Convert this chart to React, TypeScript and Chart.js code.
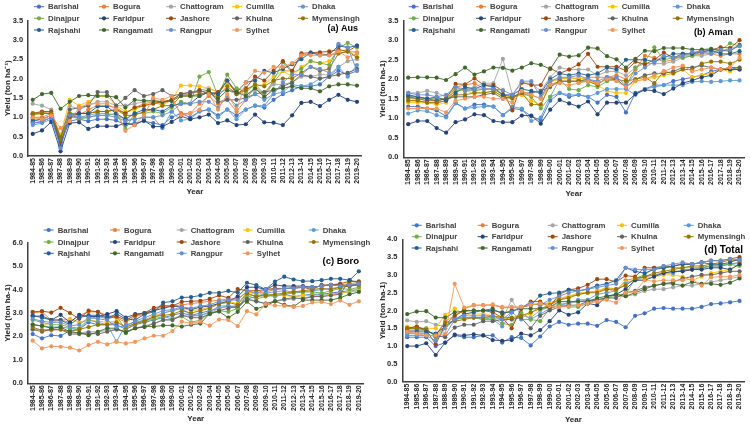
import React, { useEffect, useRef } from "react";
import { Chart, registerables } from "chart.js";

Chart.register(...registerables);
Chart.defaults.font.family = "'Liberation Sans', Arial, sans-serif";

const years = [
  "1984-85", "1985-86", "1986-87", "1987-88", "1988-89", "1989-90", "1990-91", "1991-92", "1992-93",
  "1993-94", "1994-95", "1995-96", "1996-97", "1997-98", "1998-99", "1999-00", "2000-01", "2001-02",
  "2002-03", "2003-04", "2004-05", "2005-06", "2006-07", "2007-08", "2008-09", "2009-10", "2010-11",
  "2011-12", "2012-13", "2013-14", "2014-15", "2015-16", "2016-17", "2017-18", "2018-19", "2019-20",
];

const districts = [
  "Barishal", "Bogura", "Chattogram", "Cumilla", "Dhaka", "Dinajpur", "Faridpur",
  "Jashore", "Khulna", "Mymensingh", "Rajshahi", "Rangamati", "Rangpur", "Sylhet",
];

const colors = [
  "#4472C4", "#ED7D31", "#A5A5A5", "#FFC000", "#5B9BD5", "#70AD47", "#264478",
  "#9E480E", "#636363", "#997300", "#255E91", "#43682B", "#698ED0", "#F1975A",
];

// ---- (a) Aus ----
const ausBarishal = [0.85,0.88,1.0,0.35,0.9,0.95,0.9,0.95,0.95,0.92,0.80,0.85,0.90,0.85,0.80,1.0,1.1,1.0,1.15,1.2,1.05,1.2,1.05,1.2,1.3,1.25,1.45,1.6,1.7,1.8,1.8,1.85,2.05,2.2,2.1,2.2];
const ausBogura = [1.0,1.0,1.1,0.45,1.0,1.05,1.2,1.3,1.3,1.25,1.1,1.25,1.35,1.4,1.35,1.45,1.1,1.1,1.35,1.55,1.35,1.45,1.15,1.45,1.8,1.55,1.9,2.2,2.2,2.6,2.65,2.65,2.6,2.65,2.7,2.68];
const ausChattogram = [1.35,1.3,1.2,0.5,1.3,1.2,1.3,1.4,1.4,1.3,1.3,1.35,1.4,1.45,1.4,1.45,1.6,1.65,1.7,1.75,1.65,1.7,1.6,1.6,1.7,1.65,1.85,1.85,1.9,2.05,2.05,2.1,2.1,2.3,2.45,2.5];
const ausCumilla = [1.05,1.1,1.1,0.55,1.45,1.3,1.4,1.55,1.55,1.3,1.15,1.2,1.3,1.4,1.3,1.45,1.82,1.82,1.8,1.75,1.65,1.85,1.7,1.75,1.8,1.85,2.05,2.2,2.05,2.3,2.45,2.4,2.45,2.7,2.75,2.55];
const ausDhaka = [0.8,0.85,0.95,0.3,1.0,1.0,1.05,1.1,1.1,1.05,0.95,0.95,1.0,1.0,0.72,1.15,0.92,0.95,1.15,1.2,1.0,1.2,0.95,1.2,1.3,1.3,1.6,1.65,1.85,1.8,1.85,2.0,2.05,2.3,2.05,2.35];
const ausDinajpur = [0.95,0.95,1.05,0.4,1.05,0.95,1.0,1.05,1.05,1.1,0.70,1.1,1.1,1.15,1.1,1.25,1.4,1.35,2.05,2.17,1.55,2.1,1.75,1.65,1.85,1.6,1.95,2.42,2.15,2.25,2.45,2.4,2.35,2.8,2.92,2.8];
const ausFaridpur = [0.57,0.66,0.88,0.12,0.85,0.87,0.70,0.77,0.77,0.77,0.85,0.80,0.92,0.76,0.76,0.88,1.03,0.95,1.0,1.07,0.85,0.92,0.80,0.82,1.07,0.87,0.86,0.80,1.05,1.37,1.40,1.29,1.45,1.58,1.45,1.40];
const ausJashore = [1.1,1.15,1.15,0.32,1.0,1.1,1.1,1.15,1.15,1.2,1.1,1.25,1.3,1.35,1.4,1.45,1.6,1.6,1.7,1.6,1.65,1.95,1.6,1.75,2.05,1.95,2.2,2.45,2.2,2.65,2.67,2.68,2.7,2.75,2.7,2.85];
const ausKhulna = [1.08,1.1,1.1,0.48,1.2,1.25,1.3,1.65,1.65,1.3,1.5,1.7,1.55,1.6,1.7,1.55,1.6,1.65,1.65,1.7,1.4,1.45,1.45,1.5,1.6,1.65,1.7,1.8,1.9,2.1,2.05,2.0,2.05,2.1,2.15,2.25];
const ausMymensingh = [1.1,1.12,1.1,0.45,1.1,1.1,1.1,1.15,1.15,1.2,1.05,1.05,1.15,1.2,1.3,1.3,1.55,1.55,1.6,1.65,1.55,1.8,1.6,1.7,1.85,1.8,1.95,2.0,2.0,2.15,2.3,2.2,2.25,2.65,2.7,2.55];
const ausRajshahi = [0.9,0.95,1.05,0.25,1.05,1.1,1.1,1.28,1.28,1.1,0.95,1.1,1.2,1.2,1.15,1.3,1.35,1.35,1.55,1.65,1.6,1.95,1.65,1.9,1.95,2.2,2.15,2.25,2.37,2.5,2.67,2.6,2.62,2.85,2.8,2.85];
const ausRangamati = [1.45,1.60,1.63,1.22,1.40,1.55,1.57,1.55,1.55,1.52,1.25,1.45,1.43,1.42,1.40,1.42,1.55,1.55,1.55,1.65,1.48,1.70,1.65,1.55,1.75,1.52,1.72,1.75,1.80,1.75,1.75,1.67,1.80,1.85,1.85,1.82];
const ausRangpur = [0.85,0.9,1.0,0.2,1.05,1.0,1.0,1.05,1.05,1.0,0.9,0.95,1.0,1.0,1.05,1.15,1.35,1.35,1.4,1.4,1.25,1.55,1.3,1.45,1.6,1.45,1.6,1.9,2.1,2.1,2.3,2.25,2.15,2.9,2.8,2.2];
const ausSylhet = [1.0,0.95,1.05,0.72,0.9,1.25,1.35,1.35,1.35,1.2,0.65,0.8,1.05,1.5,1.45,1.55,1.05,1.1,1.2,1.6,1.2,1.6,1.2,1.9,2.2,2.15,2.3,2.3,2.4,2.6,2.6,2.6,2.6,2.7,2.55,2.65];

// ---- (b) Aman ----
const amanBarishal = [1.3,1.3,1.25,1.2,1.05,1.4,1.25,1.35,1.35,1.3,1.08,1.25,1.22,1.05,0.95,1.45,1.65,1.55,1.6,1.55,1.4,1.6,1.55,1.15,1.65,1.75,1.85,1.85,1.95,2.0,2.05,2.1,2.2,2.25,2.3,2.25];
const amanBogura = [1.45,1.45,1.4,1.4,1.45,1.8,1.85,1.9,1.75,1.75,1.6,1.55,1.6,1.6,1.5,1.95,2.0,2.05,2.0,2.05,2.05,2.05,2.1,2.0,2.25,2.6,2.55,2.45,2.5,2.6,2.6,2.65,2.65,2.6,2.65,2.65];
const amanChattogram = [1.65,1.65,1.7,1.65,1.55,1.8,1.75,1.8,1.9,1.9,2.52,1.6,1.9,1.9,1.7,2.05,2.3,2.25,2.25,2.25,2.1,2.2,2.2,2.1,2.3,2.4,2.4,2.4,2.45,2.55,2.6,2.6,2.65,2.7,2.8,2.85];
const amanCumilla = [1.4,1.4,1.4,1.35,1.4,1.75,1.7,1.65,1.65,1.7,1.55,1.55,1.6,1.45,1.35,1.9,2.05,2.0,2.05,1.95,1.85,1.7,1.65,1.65,1.95,2.0,2.05,2.1,2.15,2.25,2.05,2.1,2.15,2.25,2.2,2.3];
const amanDhaka = [1.12,1.2,1.18,1.08,1.02,1.38,1.25,1.28,1.3,1.3,1.08,1.3,1.25,0.93,1.02,1.55,1.65,1.6,1.6,1.55,1.65,1.75,1.75,1.75,1.6,1.75,1.8,1.85,1.85,1.85,1.93,1.95,1.93,1.95,1.97,1.97];
const amanDinajpur = [1.5,1.5,1.5,1.5,1.5,1.7,1.75,1.7,1.75,1.75,1.6,1.55,1.65,1.55,1.25,1.55,2.0,1.75,1.72,1.85,1.8,1.95,2.0,1.8,2.3,2.45,2.82,2.5,2.55,2.55,2.6,2.7,2.7,2.75,2.92,2.85];
const amanFaridpur = [0.85,0.93,0.93,0.75,0.63,0.90,0.97,1.10,1.08,0.93,0.90,0.90,1.07,1.07,0.86,1.22,1.47,1.38,1.30,1.43,1.10,1.40,1.40,1.40,1.62,1.73,1.70,1.62,1.76,1.90,1.97,2.05,2.10,2.25,2.25,2.25];
const amanJashore = [1.55,1.5,1.45,1.45,1.5,1.88,1.87,2.02,1.85,1.85,1.70,1.20,1.92,1.85,1.85,2.28,2.15,2.25,2.38,2.65,2.32,2.32,2.32,2.22,2.45,2.38,2.5,2.68,2.55,2.65,2.65,2.75,2.75,2.82,2.8,3.0];
const amanKhulna = [1.55,1.55,1.5,1.45,1.5,1.55,1.55,1.55,1.6,1.65,1.5,1.55,1.65,1.65,1.7,1.8,1.95,1.95,1.95,2.0,1.9,2.0,2.0,1.8,2.0,2.1,2.15,2.15,2.2,2.3,2.3,2.35,2.3,2.25,2.3,2.3];
const amanMymensingh = [1.45,1.45,1.4,1.4,1.45,1.6,1.6,1.65,1.65,1.7,1.55,1.5,1.65,1.35,1.35,1.85,1.95,1.95,1.95,1.95,1.85,2.05,2.0,1.95,2.0,2.05,1.9,2.2,2.15,2.25,2.25,2.4,2.45,2.45,2.4,2.5];
const amanRajshahi = [1.6,1.55,1.5,1.55,1.45,1.65,1.8,1.75,1.85,1.8,1.6,1.6,1.75,1.7,1.65,2.0,2.15,2.1,2.15,2.1,2.15,2.3,2.25,2.5,2.5,2.5,2.45,2.55,2.65,2.65,2.65,2.7,2.75,2.65,2.65,2.72];
const amanRangamati = [2.04,2.05,2.05,2.04,1.98,2.13,2.30,2.12,2.20,2.30,2.29,2.22,2.30,2.41,2.37,2.26,2.63,2.58,2.61,2.81,2.79,2.59,2.51,2.30,2.52,2.73,2.72,2.80,2.80,2.80,2.76,2.76,2.78,2.74,2.72,2.88];
const amanRangpur = [1.65,1.6,1.6,1.55,1.6,1.8,1.7,1.75,1.75,1.75,1.72,1.6,1.95,1.95,1.55,1.95,2.05,2.05,2.1,2.0,1.95,2.05,2.05,1.85,2.15,2.3,2.45,2.6,2.55,2.6,2.7,2.7,2.65,2.75,2.75,2.85];
const amanSylhet = [1.25,1.25,1.25,1.25,1.15,1.45,1.5,1.55,1.55,1.5,1.5,1.4,1.7,1.6,1.5,1.85,1.9,1.85,1.9,1.95,1.9,2.0,1.95,1.8,1.95,2.0,2.1,2.2,2.3,2.35,2.2,2.25,2.3,2.25,2.3,2.55];

// ---- (c) Boro ----
const boroBarishal = [2.1,1.92,2.05,2.02,2.25,2.3,2.6,2.5,2.5,2.5,2.3,2.5,2.6,2.7,2.8,2.9,3.0,2.9,3.0,3.1,3.2,3.3,3.2,3.6,3.7,3.8,3.7,3.8,3.7,3.75,3.8,3.8,3.85,3.9,3.95,4.0];
const boroBogura = [3.0,3.05,2.7,2.7,2.6,2.9,3.05,3.05,2.9,2.8,2.6,2.85,2.95,3.1,3.3,3.3,3.35,3.4,3.45,3.5,3.55,3.6,3.6,3.9,3.85,3.9,4.0,4.05,4.1,4.1,4.1,4.15,4.2,4.2,4.25,4.3];
const boroChattogram = [2.3,2.3,2.25,2.3,2.15,2.15,2.2,2.2,2.25,2.3,2.2,2.35,2.45,2.55,2.7,2.75,2.9,2.85,2.9,3.0,3.2,3.3,3.3,3.55,3.5,3.4,3.5,3.55,3.6,3.65,3.7,3.75,3.8,3.85,3.9,3.95];
const boroCumilla = [2.5,2.45,2.6,2.7,2.75,2.6,2.7,2.65,2.6,2.65,2.4,2.55,2.7,2.9,3.0,3.1,3.2,3.1,3.15,3.25,3.45,3.5,3.4,3.9,3.8,3.85,3.75,3.75,3.7,3.75,3.75,3.7,3.8,3.8,3.95,4.05];
const boroDhaka = [2.5,2.45,2.4,2.4,2.35,2.3,2.7,2.6,2.5,1.78,2.5,2.6,2.7,2.8,3.0,3.1,3.2,2.9,2.9,3.05,3.3,3.3,3.2,3.8,3.7,3.85,3.9,3.95,3.9,3.9,3.95,4.0,4.05,4.1,4.15,4.2];
const boroDinajpur = [2.7,2.6,2.5,2.5,2.4,2.35,2.75,2.85,2.75,2.85,2.3,2.55,2.65,2.75,2.85,2.75,2.85,2.6,2.7,3.0,3.1,3.05,3.2,3.75,3.6,3.7,3.75,3.8,3.85,3.9,3.9,3.85,3.95,4.05,4.0,4.1];
const boroFaridpur = [2.85,2.88,2.7,2.92,2.6,2.92,2.85,2.85,2.95,3.08,2.8,2.95,3.0,3.1,3.2,3.3,3.25,3.15,3.25,3.3,3.4,3.5,3.7,4.1,4.1,4.0,4.2,4.15,4.15,4.15,4.1,4.15,4.2,4.2,4.15,4.25];
const boroJashore = [3.05,3.08,3.02,3.22,3.0,2.75,3.1,3.05,2.8,2.85,2.7,2.9,3.0,3.22,3.3,3.3,3.48,3.5,3.52,3.6,3.75,3.65,4.02,3.95,3.95,4.0,4.05,4.05,4.05,4.1,4.0,4.2,4.2,4.25,4.35,4.35];
const boroKhulna = [2.3,2.2,2.3,2.3,2.1,2.1,2.15,2.1,2.2,2.3,2.2,2.35,2.4,2.55,2.7,2.7,2.9,2.8,2.8,2.95,3.1,3.2,3.3,3.6,3.5,3.4,3.5,3.6,3.65,3.6,3.7,3.7,3.75,3.8,4.4,4.3];
const boroMymensingh = [2.4,2.25,2.3,2.3,2.2,2.3,2.4,2.5,2.5,2.6,2.4,2.55,2.65,2.85,2.9,2.95,3.1,3.0,3.1,3.2,3.4,3.45,3.35,3.85,3.7,3.75,3.8,3.85,3.9,3.95,4.0,4.05,4.0,4.1,4.15,4.2];
const boroRajshahi = [2.9,2.8,2.7,2.7,2.5,2.8,2.9,2.9,2.8,2.95,2.75,2.7,2.95,3.05,3.44,3.5,3.66,3.68,3.75,3.86,3.86,3.94,3.87,4.29,4.19,4.01,4.34,4.55,4.43,4.36,4.36,4.4,4.46,4.46,4.4,4.78];
const boroRangamati = [2.5,2.45,2.35,2.4,2.2,2.15,2.05,2.2,2.35,2.35,2.15,2.35,2.42,2.42,2.47,2.47,2.42,2.5,2.55,2.98,3.06,2.8,3.05,3.48,3.18,3.3,3.5,3.35,3.28,3.55,3.55,3.55,3.55,3.65,3.8,3.9];
const boroRangpur = [2.75,2.65,2.6,2.6,2.45,2.5,2.8,2.75,2.7,2.4,2.45,2.65,2.8,2.95,3.1,3.15,3.25,3.2,3.3,3.35,3.5,3.55,3.55,3.95,3.85,4.0,4.0,4.05,4.05,4.1,4.1,4.15,4.2,4.15,4.2,4.25];
const boroSylhet = [1.82,1.49,1.58,1.56,1.52,1.4,1.63,1.77,1.66,1.77,1.7,1.77,1.92,2.03,2.03,2.23,2.63,2.56,2.63,2.46,2.72,2.7,2.44,3.08,2.94,3.38,3.32,3.3,3.26,3.3,3.45,3.47,3.38,3.53,3.35,3.5];

// ---- (d) Total ----
const totBarishal = [1.25,1.25,1.25,1.0,1.1,1.3,1.25,1.25,1.3,1.3,1.1,1.25,1.23,1.02,1.27,1.55,1.68,1.6,1.63,1.63,1.57,1.73,1.68,1.53,1.85,1.92,2.05,2.07,2.05,2.05,2.05,2.1,2.18,2.2,2.23,2.27];
const totBogura = [1.5,1.55,1.45,1.3,1.7,1.85,2.05,2.15,2.15,2.15,2.08,2.08,2.1,2.15,2.2,2.2,2.3,2.4,2.45,2.5,2.55,2.6,2.55,2.85,2.9,2.95,3.0,3.05,3.1,3.1,3.15,3.2,3.25,3.25,3.3,3.35];
const totChattogram = [1.72,1.68,1.7,1.6,1.55,1.75,1.8,1.8,1.8,1.8,1.75,2.3,1.85,1.8,2.0,2.1,2.2,2.2,2.25,2.3,2.3,2.35,2.4,2.4,2.45,2.55,2.6,2.6,2.65,2.7,2.7,2.75,2.8,2.85,2.9,2.95];
const totCumilla = [1.55,1.5,1.5,1.5,1.88,2.05,1.9,1.9,1.9,1.85,1.8,1.75,1.85,1.9,2.15,2.2,2.35,2.4,2.5,2.5,2.55,2.65,2.6,2.8,2.85,2.9,2.95,3.0,3.0,2.95,2.85,2.95,3.05,3.1,3.15,3.3];
const totDhaka = [1.35,1.35,1.35,1.25,1.3,1.75,1.8,1.8,1.75,1.75,1.55,1.95,1.75,1.75,1.9,2.05,2.15,2.2,2.3,2.3,2.45,2.5,2.55,2.75,2.85,2.95,3.0,3.05,3.05,3.15,3.15,3.2,3.25,3.25,3.3,3.35];
const totDinajpur = [1.5,1.5,1.5,1.25,1.55,1.75,1.8,1.8,1.75,1.8,1.63,1.6,1.95,1.75,1.7,2.05,2.15,2.1,2.1,2.2,2.3,2.35,2.45,2.45,2.9,3.0,3.2,3.25,3.2,3.2,3.2,3.2,3.25,3.3,3.3,3.25];
const totFaridpur = [1.0,1.0,1.08,0.75,1.1,1.32,1.3,1.33,1.3,1.17,1.15,1.17,1.35,1.3,1.45,1.7,2.0,1.88,1.95,2.2,2.15,2.4,2.45,2.6,2.85,2.85,2.95,3.05,3.1,3.1,3.15,3.15,3.2,3.2,3.15,3.3];
const totJashore = [1.5,1.55,1.45,1.05,1.6,1.85,2.0,2.0,2.0,1.95,1.8,1.5,2.05,2.25,2.25,2.1,2.45,2.58,2.62,2.72,2.88,2.88,2.8,2.98,2.95,3.2,3.2,3.2,3.25,3.3,3.3,3.35,3.4,3.4,3.45,3.5];
const totKhulna = [1.45,1.45,1.45,1.3,1.25,1.52,1.6,1.6,1.7,1.7,1.75,1.75,1.8,1.5,1.85,2.0,2.1,2.15,2.15,2.25,2.3,2.35,2.35,2.5,2.55,2.65,2.7,2.75,2.8,2.9,2.95,3.0,3.0,3.05,3.1,3.1];
const totMymensingh = [1.5,1.5,1.45,1.3,1.65,1.7,1.75,1.8,1.8,1.85,1.8,1.8,1.85,1.95,2.05,2.15,2.3,2.35,2.45,2.5,2.5,2.6,2.6,2.7,2.9,2.95,3.05,3.1,3.15,3.2,3.25,3.25,3.3,3.35,3.42,3.4];
const totRajshahi = [1.4,1.4,1.4,1.35,1.55,1.75,1.9,1.95,2.0,2.0,1.95,1.95,2.1,2.15,2.42,2.48,2.5,2.58,2.55,2.6,2.7,2.75,2.85,3.2,3.1,3.05,3.15,3.2,3.25,3.3,3.3,3.35,3.3,3.3,3.35,3.45];
const totRangamati = [1.9,1.97,1.98,1.8,1.8,1.95,1.98,2.0,2.0,2.05,1.9,2.0,2.05,2.05,2.05,2.1,2.25,2.25,2.25,2.25,2.35,2.4,2.45,2.4,2.5,2.6,2.7,2.75,2.75,2.7,2.8,2.75,2.75,2.72,2.78,2.9];
const totRangpur = [1.3,1.3,1.3,1.15,1.5,1.75,1.85,1.85,1.85,1.85,1.75,1.95,2.1,2.2,2.15,2.3,2.4,2.5,2.55,2.6,2.65,2.7,2.75,3.2,3.15,3.15,3.15,3.25,3.3,3.35,3.3,3.35,3.4,3.4,3.45,3.42];
const totSylhet = [1.4,1.35,1.3,1.3,1.35,2.75,2.08,2.15,2.15,2.17,2.1,2.1,2.1,2.15,2.2,2.12,2.1,2.12,2.15,2.2,2.25,2.3,2.22,2.5,2.52,2.85,2.82,2.85,2.85,2.85,2.88,2.7,2.93,2.95,2.95,3.0];

const ausSeries = [ausBarishal, ausBogura, ausChattogram, ausCumilla, ausDhaka, ausDinajpur, ausFaridpur, ausJashore, ausKhulna, ausMymensingh, ausRajshahi, ausRangamati, ausRangpur, ausSylhet];
const amanSeries = [amanBarishal, amanBogura, amanChattogram, amanCumilla, amanDhaka, amanDinajpur, amanFaridpur, amanJashore, amanKhulna, amanMymensingh, amanRajshahi, amanRangamati, amanRangpur, amanSylhet];
const boroSeries = [boroBarishal, boroBogura, boroChattogram, boroCumilla, boroDhaka, boroDinajpur, boroFaridpur, boroJashore, boroKhulna, boroMymensingh, boroRajshahi, boroRangamati, boroRangpur, boroSylhet];
const totSeries = [totBarishal, totBogura, totChattogram, totCumilla, totDhaka, totDinajpur, totFaridpur, totJashore, totKhulna, totMymensingh, totRajshahi, totRangamati, totRangpur, totSylhet];

type Cfg = {
  left: number; top: number; width: number; height: number;
  pad: { left: number; top: number; right: number; bottom: number };
  yWidth: number; xHeight: number;
  yMax: number; yStep: number; yTitle: string;
  series: number[][];
  label: string; labelSize: number; labelRight: number; labelY: number;
  legendX: number[]; legendY: number[];
};

const AXIS = "#404040";
const TXT = "#262626";

function Panel({ cfg }: { cfg: Cfg }) {
  const ref = useRef<HTMLCanvasElement | null>(null);
  useEffect(() => {
    const canvas = ref.current;
    if (!canvas) return;
    const overlay = {
      id: "overlay",
      afterDraw(chart: any) {
        const ctx = chart.ctx as CanvasRenderingContext2D;
        ctx.save();
        ctx.font = "bold 7.8px 'Liberation Sans', Arial, sans-serif";
        ctx.textBaseline = "middle";
        ctx.textAlign = "left";
        districts.forEach((name, i) => {
          const col = i % 5;
          const row = Math.floor(i / 5);
          const tx = cfg.legendX[col];
          const ty = cfg.legendY[row];
          ctx.strokeStyle = colors[i];
          ctx.lineWidth = 1;
          ctx.beginPath();
          ctx.moveTo(tx - 14, ty);
          ctx.lineTo(tx - 4, ty);
          ctx.stroke();
          ctx.fillStyle = colors[i];
          ctx.beginPath();
          ctx.arc(tx - 9, ty, 2.1, 0, Math.PI * 2);
          ctx.fill();
          ctx.fillStyle = "#404040";
          ctx.fillText(name, tx, ty + 0.5);
        });
        ctx.font = `bold ${cfg.labelSize}px 'Liberation Sans', Arial, sans-serif`;
        ctx.textAlign = "right";
        ctx.fillStyle = "#000";
        ctx.fillText(cfg.label, cfg.labelRight, cfg.labelY);
        ctx.restore();
      },
    };
    const chart = new Chart(canvas, {
      type: "line",
      data: {
        labels: years,
        datasets: districts.map((d, i) => ({
          label: d,
          data: cfg.series[i],
          borderColor: colors[i],
          backgroundColor: colors[i],
          pointBackgroundColor: colors[i],
          pointBorderWidth: 0,
          pointRadius: 2.1,
          borderWidth: 0.9,
          tension: 0,
          order: districts.length - i,
        })),
      },
      options: {
        responsive: false,
        animation: false,
        devicePixelRatio: 1,
        layout: { padding: cfg.pad },
        plugins: { legend: { display: false }, tooltip: { enabled: false } },
        scales: {
          x: {
            type: "category",
            offset: true,
            grid: { display: false, drawTicks: false },
            border: { display: true, color: AXIS, width: 1.5 },
            ticks: {
              autoSkip: false,
              maxRotation: 90,
              minRotation: 90,
              padding: 2,
              color: TXT,
              font: { size: 7, weight: "bold" },
            },
            title: {
              display: true,
              text: "Year",
              color: TXT,
              font: { size: 8, weight: "bold" },
              padding: { top: 0, bottom: 0 },
            },
            afterFit: (s: any) => { s.height = cfg.xHeight; },
          },
          y: {
            min: 0,
            max: cfg.yMax,
            grid: { display: false, drawTicks: false },
            border: { display: true, color: AXIS, width: 1.5 },
            ticks: {
              stepSize: cfg.yStep,
              padding: 5,
              color: TXT,
              font: { size: 7.5, weight: "bold" },
              callback: (v: any) => Number(v).toFixed(1),
            },
            title: {
              display: true,
              text: cfg.yTitle,
              color: TXT,
              font: { size: 8, weight: "bold" },
              padding: { top: 3, bottom: 0 },
            },
            afterFit: (s: any) => { s.width = cfg.yWidth; },
          },
        },
      },
      plugins: [overlay],
    } as any);
    return () => chart.destroy();
  }, [cfg]);
  return (
    <canvas
      ref={ref}
      width={cfg.width}
      height={cfg.height}
      style={{ position: "absolute", left: cfg.left, top: cfg.top, width: cfg.width, height: cfg.height, display: "block" }}
    />
  );
}

const panels: Cfg[] = [
  {
    left: 0, top: 0, width: 375, height: 213,
    pad: { left: 0, top: 20.5, right: 13.4, bottom: 16.2 },
    yWidth: 28.1, xHeight: 40.8,
    yMax: 3.5, yStep: 0.5, yTitle: "Yield (ton ha\u207B\u00B9)",
    series: ausSeries,
    label: "(a) Aus", labelSize: 9, labelRight: 358, labelY: 29,
    legendX: [48, 113, 180, 246, 312], legendY: [6.7, 18.3, 30],
  },
  {
    left: 375, top: 0, width: 375, height: 213,
    pad: { left: 0, top: 20.7, right: 3.4, bottom: 14.9 },
    yWidth: 28.5, xHeight: 40.8,
    yMax: 3.5, yStep: 0.5, yTitle: "Yield (ton ha-1)",
    series: amanSeries,
    label: "(b) Aman", labelSize: 9, labelRight: 358, labelY: 33,
    legendX: [47.7, 115, 180, 246.7, 311.7], legendY: [6.7, 18.3, 30],
  },
  {
    left: 0, top: 213, width: 375, height: 214,
    pad: { left: 0, top: 29.7, right: 11.5, bottom: 3.2 },
    yWidth: 28.0, xHeight: 40.5,
    yMax: 6, yStep: 1, yTitle: "Yield (ton ha-1)",
    series: boroSeries,
    label: "(c) Boro", labelSize: 9.5, labelRight: 359, labelY: 48.7,
    legendX: [57.7, 124, 190.7, 256.7, 322.7], legendY: [17, 29, 40.3],
  },
  {
    left: 375, top: 213, width: 375, height: 214,
    pad: { left: 0, top: 26.3, right: 3, bottom: 2.9 },
    yWidth: 27.5, xHeight: 42.4,
    yMax: 4, yStep: 0.5, yTitle: "Yield (ton ha-1)",
    series: totSeries,
    label: "(d) Total", labelSize: 10, labelRight: 368, labelY: 37.7,
    legendX: [50.7, 116.7, 186.7, 256, 322.7], legendY: [12.3, 23.7, 35],
  },
];

export default function App() {
  return (
    <div style={{ position: "absolute", left: 0, top: 0, width: 750, height: 427, background: "#fff" }}>
      {panels.map((p, i) => (
        <Panel key={i} cfg={p} />
      ))}
    </div>
  );
}
